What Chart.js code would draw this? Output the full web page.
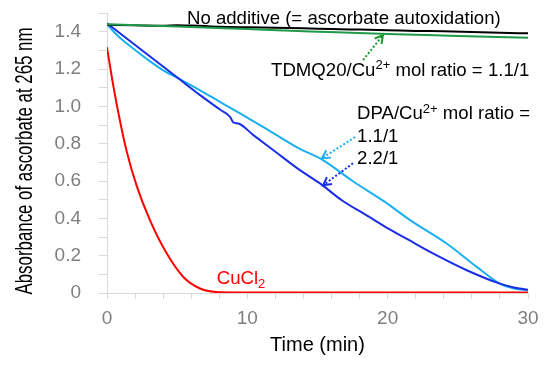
<!DOCTYPE html>
<html>
<head>
<meta charset="utf-8">
<script src="https://cdn.jsdelivr.net/npm/chart.js@4.4.1/dist/chart.umd.min.js"></script>
<style>
  html, body { margin: 0; padding: 0; background: #fff; }
</style>
</head>
<body>
<canvas id="myChart" width="550" height="366"></canvas>
<script>
// time (min) and absorbance values
var tNoAdd = [0, 2, 4, 5, 6, 7, 8, 10, 12, 14, 16, 18, 20, 22, 24, 26, 28, 30];
var noAdditive = [1.437, 1.434, 1.432, 1.435, 1.433, 1.430, 1.426, 1.423, 1.421, 1.418, 1.414, 1.411, 1.408, 1.404, 1.402, 1.398, 1.394, 1.391];

var tTdmq = [0, 5, 10, 15, 20, 25, 30];
var tdmq = [1.44, 1.428, 1.414, 1.400, 1.387, 1.377, 1.367];

var tDpa11 = [0, 0.5, 1, 2, 3, 4, 5.08, 6.63, 8.05, 10, 12, 13.75, 15.3, 17.5, 19.8, 21.6, 24.2, 26.35, 28, 29, 30];
var dpa11 = [1.44, 1.398, 1.362, 1.302, 1.245, 1.193, 1.15, 1.086, 1.024, 0.94, 0.85, 0.772, 0.716, 0.60, 0.488, 0.39, 0.265, 0.14, 0.05, 0.024, 0.015];

var tDpa22 = [0, 5.08, 6.63, 8.05, 8.77, 9.0, 9.36, 10.43, 12, 13.75, 15.18, 16.73, 18.5, 20.05, 21.5, 23.26, 25.64, 28, 29, 30];
var dpa22 = [1.445, 1.15, 1.06, 0.983, 0.944, 0.914, 0.908, 0.846, 0.757, 0.658, 0.587, 0.497, 0.416, 0.345, 0.284, 0.211, 0.122, 0.05, 0.03, 0.018];

var tCu = [0, 0.45, 0.93, 1.4, 2.11, 3.06, 4.26, 5.44, 6.63, 7.8, 9, 12, 16, 20, 25, 30];
var cucl2 = [1.316, 1.11, 0.92, 0.76, 0.575, 0.39, 0.211, 0.086, 0.024, 0.005, 0.003, 0.003, 0.003, 0.003, 0.003, 0.003];

var xTickLabels = [0, 10, 20, 30];
var yTickLabels = [0, 0.2, 0.4, 0.6, 0.8, 1.0, 1.2, 1.4];

var yTitle = 'Absorbance of ascorbate at 265 nm';
var xTitle = 'Time (min)';

function pts(ts, vs) {
    return ts.map(function(t, i){ return {x: t, y: vs[i]}; });
}

// text labels and arrows, placed in data units (time, absorbance)
var notes = [
    {parts: [['No additive (= ascorbate autoxidation)']], x: 5.7, y: 1.441, color: '#000'},
    {parts: [['TDMQ20/Cu'], ['2+', 'sup'], [' mol ratio = 1.1/1']], x: 11.69, y: 1.162, color: '#000'},
    {parts: [['DPA/Cu'], ['2+', 'sup'], [' mol ratio =']], x: 17.82, y: 0.930, color: '#000'},
    {parts: [['1.1/1']], x: 17.82, y: 0.810, color: '#000'},
    {parts: [['2.2/1']], x: 17.82, y: 0.690, color: '#000'},
    {parts: [['CuCl'], ['2', 'sub']], x: 7.82, y: 0.047, color: '#ff0000'}
];
var arrows = [
    {from: [18.25, 1.248], to: [19.67, 1.382], color: '#1f9a2e'},
    {from: [17.68, 0.835], to: [15.32, 0.722], color: '#1ab0f0'},
    {from: [17.53, 0.695], to: [15.40, 0.577], color: '#1a2ee6'}
];

var FONT = "'Liberation Sans', Arial, sans-serif";

function drawRich(ctx, parts, x, y, size, color) {
    ctx.fillStyle = color;
    ctx.textBaseline = 'alphabetic';
    ctx.textAlign = 'left';
    parts.forEach(function(p){
        var s = size, dy = 0;
        if (p[1] === 'sup') { s = Math.round(size * 0.7); dy = -size * 0.36; }
        if (p[1] === 'sub') { s = Math.round(size * 0.7); dy = size * 0.2; }
        ctx.font = s + 'px ' + FONT;
        ctx.fillText(p[0], x, y + dy);
        x += ctx.measureText(p[0]).width;
    });
}

var notesPlugin = {
    id: 'notes',
    afterDatasetsDraw: function(chart) {
        var ctx = chart.ctx, xs = chart.scales.x, ys = chart.scales.y;
        ctx.save();
        notes.forEach(function(n){
            drawRich(ctx, n.parts, xs.getPixelForValue(n.x), ys.getPixelForValue(n.y), 18.6, n.color);
        });
        arrows.forEach(function(a){
            var x1 = xs.getPixelForValue(a.from[0]), y1 = ys.getPixelForValue(a.from[1]);
            var x2 = xs.getPixelForValue(a.to[0]), y2 = ys.getPixelForValue(a.to[1]);
            ctx.strokeStyle = a.color;
            ctx.lineWidth = 2;
            ctx.setLineDash([2, 2]);
            ctx.beginPath();
            ctx.moveTo(x1, y1);
            ctx.lineTo(x2, y2);
            ctx.stroke();
            ctx.setLineDash([]);
            var ang = Math.atan2(y2 - y1, x2 - x1);
            var len = 9;
            ctx.beginPath();
            ctx.moveTo(x2 - len * Math.cos(ang - 0.5), y2 - len * Math.sin(ang - 0.5));
            ctx.lineTo(x2, y2);
            ctx.lineTo(x2 - len * Math.cos(ang + 0.5), y2 - len * Math.sin(ang + 0.5));
            ctx.stroke();
        });
        // condensed y axis title
        var area = chart.chartArea;
        ctx.translate(31.5, (area.top + area.bottom) / 2 + 8);
        ctx.rotate(-Math.PI / 2);
        ctx.font = '24px ' + FONT;
        var w = ctx.measureText(yTitle).width;
        ctx.scale(267 / w, 1);
        ctx.fillStyle = '#000';
        ctx.textAlign = 'center';
        ctx.textBaseline = 'alphabetic';
        ctx.fillText(yTitle, 0, 0);
        ctx.restore();
    }
};

document.addEventListener('DOMContentLoaded', function(){
    Chart.defaults.font.family = FONT;

    var data = {
        datasets: [
            {label: 'TDMQ20', data: pts(tTdmq, tdmq), borderColor: '#1f9a4a'},
            {label: 'No additive', data: pts(tNoAdd, noAdditive), borderColor: '#000000'},
            {label: 'DPA 2.2/1', data: pts(tDpa22, dpa22), borderColor: '#1a2ee6'},
            {label: 'DPA 1.1/1', data: pts(tDpa11, dpa11), borderColor: '#1ab0f0'},
            {label: 'CuCl2', data: pts(tCu, cucl2), borderColor: '#ff0000'}
        ]
    };
    data.datasets.forEach(function(d){
        d.borderWidth = 2;
        d.pointRadius = 0;
        d.fill = false;
        d.cubicInterpolationMode = 'monotone';
    });

    var options = {
        responsive: false,
        animation: false,
        layout: {padding: {left: 0, right: 22, top: 13, bottom: 0}},
        plugins: {legend: {display: false}, tooltip: {enabled: false}},
        scales: {
            x: {
                type: 'linear',
                min: 0, max: 30,
                grid: {drawOnChartArea: false, drawTicks: true, tickLength: 6, color: '#d9d9d9'},
                border: {color: '#d9d9d9'},
                ticks: {
                    stepSize: 2, autoSkip: false, maxRotation: 0, padding: 8,
                    color: '#7f7f7f', font: {size: 19},
                    callback: function(v){ return xTickLabels.indexOf(v) >= 0 ? String(v) : ''; }
                },
                title: {display: true, text: xTitle, color: '#000', font: {size: 20}, padding: {top: 9, bottom: 9}},
                afterFit: function(s){ s.height = 73; }
            },
            y: {
                min: 0, max: 1.5,
                grid: {drawOnChartArea: false, drawTicks: true, tickLength: 8, color: '#d9d9d9'},
                border: {color: '#d9d9d9'},
                ticks: {
                    stepSize: 0.1, autoSkip: false, padding: 18,
                    color: '#7f7f7f', font: {size: 19},
                    callback: function(v){
                        var r = Math.round(v * 10) / 10;
                        var hit = yTickLabels.some(function(l){ return Math.abs(l - r) < 1e-9; });
                        if (!hit) return '';
                        return r === 0 ? '0' : r.toFixed(1);
                    }
                },
                afterFit: function(s){
                    s.width = 107;
                    s.paddingTop = 0;
                    s.paddingBottom = 0;
                }
            }
        }
    };

    var ctx = document.getElementById('myChart').getContext('2d');
    var myChart = new Chart(ctx, {
        type: 'line',
        data: data,
        options: options,
        plugins: [notesPlugin]
    });
});
</script>
</body>
</html>
